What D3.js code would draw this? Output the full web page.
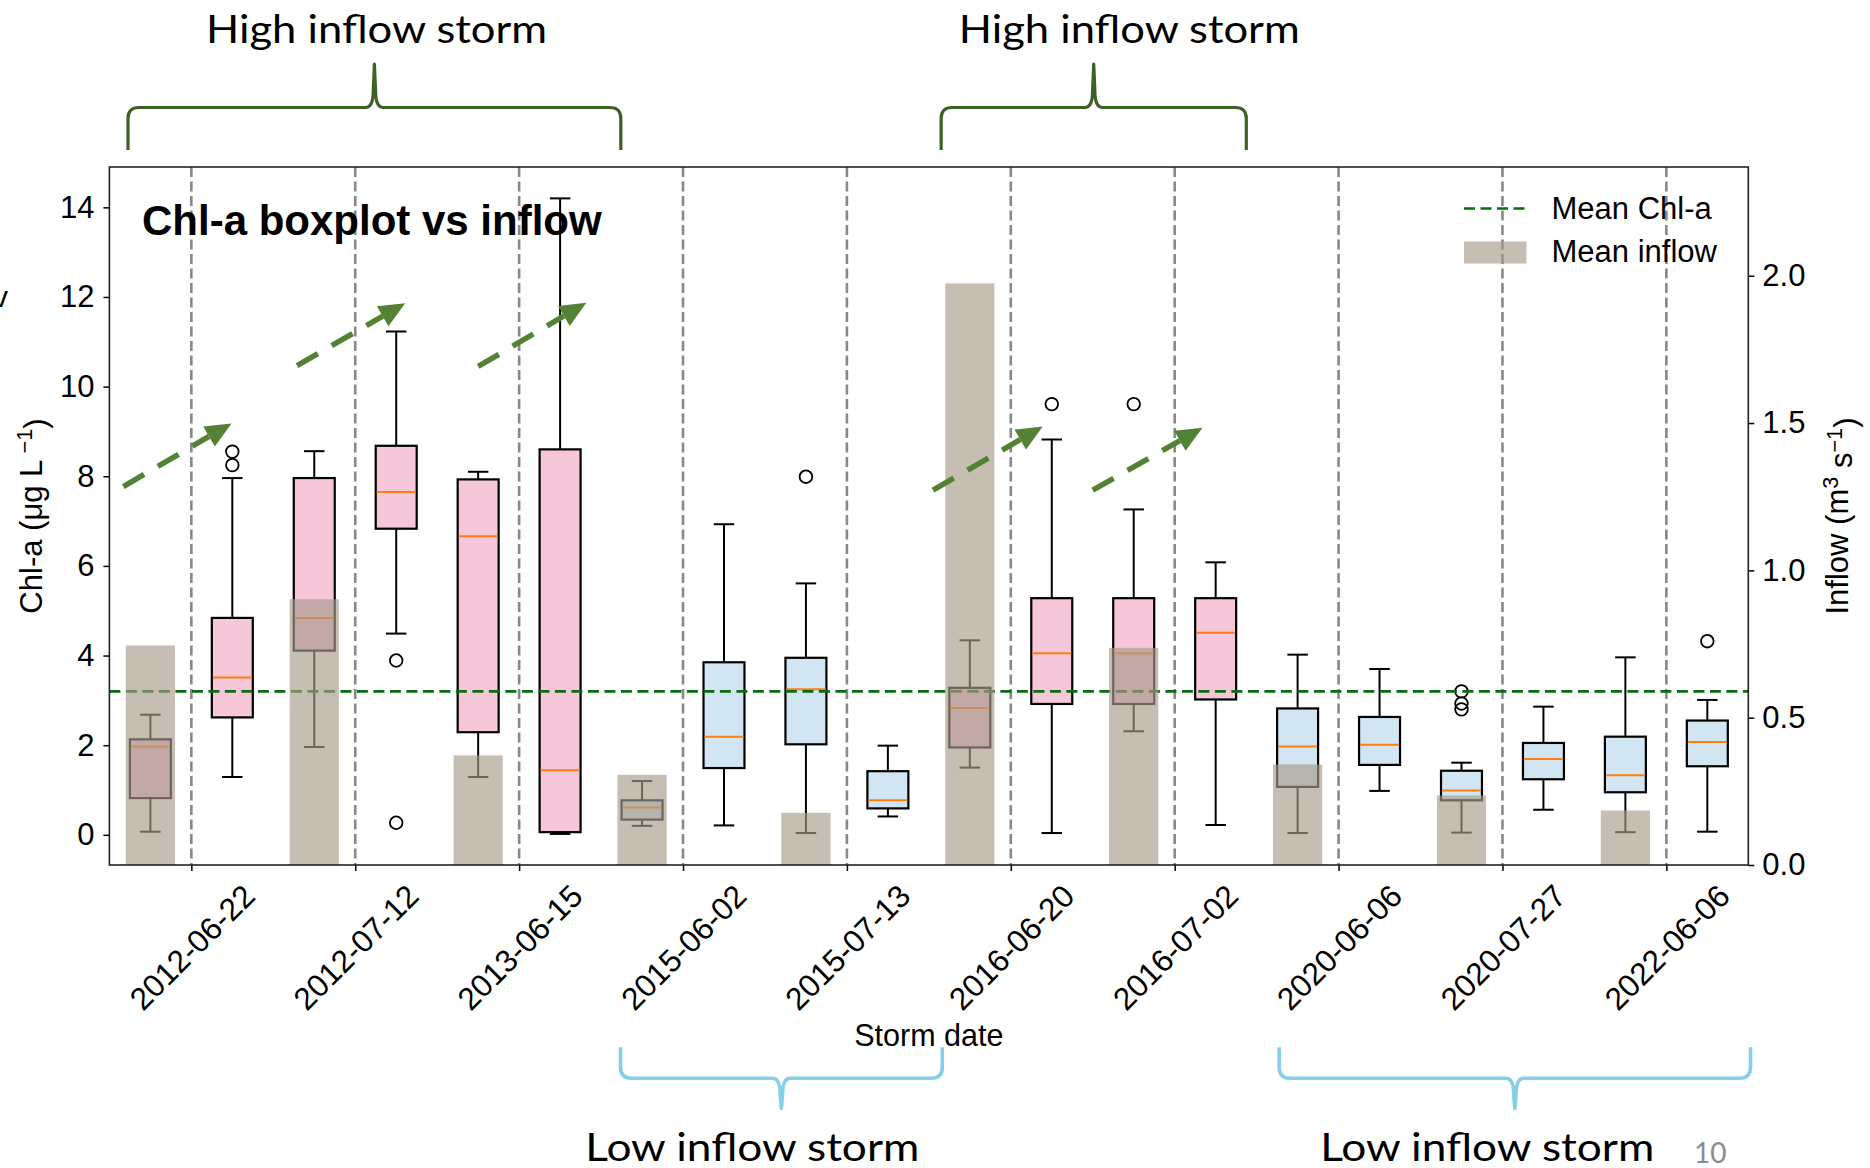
<!DOCTYPE html>
<html>
<head>
<meta charset="utf-8">
<script src="https://cdn.jsdelivr.net/npm/d3@7"></script>
<style>
  body { margin: 0; background: #fff; }
  svg { display: block; }
</style>
</head>
<body>
<svg id="chart" width="1870" height="1168"></svg>
<script>
// ---- data -------------------------------------------------------------
const storms = ["2012-06-22", "2012-07-12", "2013-06-15", "2015-06-02", "2015-07-13",
                "2016-06-20", "2016-07-02", "2020-06-06", "2020-07-27", "2022-06-06"];
const inflowClass = ["high", "high", "high", "low", "low", "high", "high", "low", "low", "low"];

// Chl-a box statistics per storm: [lower whisker, Q1, median, Q3, upper whisker]
const chlPre = [
  [0.07, 0.82, 1.97, 2.13, 2.68],
  [1.96, 4.11, 4.84, 7.96, 8.56],
  [1.29, 2.29, 6.66, 7.93, 8.10],
  [0.20, 0.34, 0.61, 0.77, 1.20],
  [0.04, 2.02, 3.25, 3.95, 5.61],
  [1.50, 1.95, 2.83, 3.28, 4.34],
  [2.31, 2.92, 4.05, 5.28, 7.26],
  [0.04, 1.07, 1.97, 2.82, 4.02],
  [0.05, 0.77, 0.99, 1.43, 1.61],
  [0.06, 0.95, 1.33, 2.19, 3.96]
];
const chlPost = [
  [1.29, 2.62, 3.51, 4.84, 7.96],
  [4.49, 6.83, 7.65, 8.68, 11.23],
  [0.02, 0.06, 1.44, 8.60, 14.20],
  [0.21, 1.49, 2.19, 3.85, 6.93],
  [0.41, 0.59, 0.77, 1.42, 1.99],
  [0.04, 2.92, 4.05, 5.28, 8.82],
  [0.22, 3.02, 4.51, 5.28, 6.08],
  [0.98, 1.56, 2.01, 2.63, 3.70],
  [0.56, 1.24, 1.69, 2.05, 2.86],
  [0.07, 1.53, 2.07, 2.55, 3.01]
];
const outliersPre = [[], [], [], [], [7.99], [], [9.61], [], [2.80, 2.93, 3.20], []];
const outliersPost = [[8.25, 8.55], [3.89, 0.27], [], [], [], [9.61], [], [], [], [4.32]];

// Mean inflow per storm (m3 s-1)
const meanInflow = [0.745, 0.902, 0.372, 0.306, 0.177, 1.974, 0.737, 0.341, 0.236, 0.185];
const meanChl = 3.2;

const chlTicks = [0, 2, 4, 6, 8, 10, 12, 14];
const inflowTicks = [0, 0.5, 1.0, 1.5, 2.0];

// Trend arrows, [x0, chl0, x1, chl1] in box-position / Chl-a units
const trendArrows = [
  [0.67, 7.77, 1.99, 9.18],
  [2.79, 10.47, 4.11, 11.86],
  [5.00, 10.45, 6.32, 11.87],
  [10.55, 7.69, 11.89, 9.11],
  [12.50, 7.69, 13.84, 9.08]
];

// Storm groups marked with braces (spans in box-position units)
const groupLabels = ["High inflow storm", "High inflow storm", "Low inflow storm", "Low inflow storm"];
const groupSpans = [[0.727, 6.741], [10.650, 14.374], [6.737, 10.664], [14.775, 20.527]];
const groupLabelAt = [3.761, 12.946, 8.346, 17.314];
const groupSide = ["top", "top", "bottom", "bottom"];

// ---- layout -----------------------------------------------------------
const W = 1870, H = 1168;
const plot = { left: 109.4, right: 1748.3, top: 167, bottom: 865 };
const chartFont = "'Liberation Sans', Arial, Helvetica, sans-serif";
const slideFont = "Lato, 'Open Sans', sans-serif";

const colors = {
  high: "#f6c6d9",
  low: "#d1e6f2",
  median: "#ff7f0e",
  bar: "rgb(168,154,138)",
  meanLine: "#0b6b12",
  grid: "#888888",
  arrow: "#548235",
  braceHigh: "#3d6125",
  braceLow: "#87ceeb"
};

const svg = d3.select("#chart");
svg.append("rect").attr("width", W).attr("height", H).attr("fill", "#fff");

const x = d3.scaleLinear().domain([0.5, 20.5]).range([plot.left, plot.right]);
const yChl = d3.scaleLinear().domain([-0.673, 14.90]).range([plot.bottom, plot.top]);
const yFlow = d3.scaleLinear().domain([0, 2.369]).range([plot.bottom, plot.top]);

// Box records: pre box at 2i+1, post box at 2i+2
const boxes = [];
storms.forEach((s, i) => {
  boxes.push({ pos: 2 * i + 1, stats: chlPre[i], out: outliersPre[i], cls: inflowClass[i] });
  boxes.push({ pos: 2 * i + 2, stats: chlPost[i], out: outliersPost[i], cls: inflowClass[i] });
});
const tickPos = storms.map((s, i) => 2 * i + 1.5);

// ---- storm separators -------------------------------------------------
svg.append("g").selectAll("line").data(tickPos).join("line")
  .attr("x1", d => x(d)).attr("x2", d => x(d))
  .attr("y1", plot.top).attr("y2", plot.bottom)
  .attr("stroke", colors.grid).attr("stroke-width", 2.6)
  .attr("stroke-dasharray", "10 4.5");

// ---- boxplots ---------------------------------------------------------
const boxW = 0.5, capW = 0.25;
const gBox = svg.append("g");
boxes.forEach(b => {
  const [lo, q1, med, q3, hi] = b.stats;
  const cx = x(b.pos);
  const hw = (x(b.pos + boxW / 2) - x(b.pos - boxW / 2)) / 2;
  const cw = (x(b.pos + capW / 2) - x(b.pos - capW / 2)) / 2;
  const g = gBox.append("g");
  g.append("line").attr("x1", cx).attr("x2", cx).attr("y1", yChl(q1)).attr("y2", yChl(lo))
    .attr("stroke", "#000").attr("stroke-width", 2);
  g.append("line").attr("x1", cx).attr("x2", cx).attr("y1", yChl(q3)).attr("y2", yChl(hi))
    .attr("stroke", "#000").attr("stroke-width", 2);
  [lo, hi].forEach(v => g.append("line")
    .attr("x1", cx - cw).attr("x2", cx + cw).attr("y1", yChl(v)).attr("y2", yChl(v))
    .attr("stroke", "#000").attr("stroke-width", 2));
  g.append("rect").attr("x", cx - hw).attr("width", 2 * hw)
    .attr("y", yChl(q3)).attr("height", yChl(q1) - yChl(q3))
    .attr("fill", colors[b.cls]).attr("stroke", "#000").attr("stroke-width", 2.2);
  g.append("line").attr("x1", cx - hw + 1).attr("x2", cx + hw - 1)
    .attr("y1", yChl(med)).attr("y2", yChl(med))
    .attr("stroke", colors.median).attr("stroke-width", 2);
  g.selectAll("circle").data(b.out).join("circle")
    .attr("cx", cx).attr("cy", d => yChl(d)).attr("r", 6.3)
    .attr("fill", "none").attr("stroke", "#000").attr("stroke-width", 1.8);
});

// ---- mean Chl-a line --------------------------------------------------
svg.append("line")
  .attr("x1", plot.left).attr("x2", plot.right)
  .attr("y1", yChl(meanChl)).attr("y2", yChl(meanChl))
  .attr("stroke", colors.meanLine).attr("stroke-width", 2.6)
  .attr("stroke-dasharray", "11 5.5");

// ---- mean inflow bars (secondary axis) --------------------------------
const barW = 0.6;
svg.append("g").selectAll("rect").data(meanInflow).join("rect")
  .attr("x", (d, i) => x(2 * i + 1 - barW / 2))
  .attr("width", x(1 + barW) - x(1))
  .attr("y", d => yFlow(d))
  .attr("height", d => yFlow(0) - yFlow(d))
  .attr("fill", colors.bar).attr("fill-opacity", 0.65);

// ---- axes -------------------------------------------------------------
const axisStyle = g => {
  g.select(".domain").remove();
  g.selectAll(".tick line").attr("stroke", "#000").attr("stroke-width", 1.5);
  g.selectAll(".tick text").attr("font-family", chartFont).attr("font-size", 31).attr("fill", "#000");
};
svg.append("g").attr("transform", `translate(${plot.left},0)`)
  .call(d3.axisLeft(yChl).tickValues(chlTicks).tickSize(6).tickPadding(9).tickFormat(d3.format("d")))
  .call(axisStyle);
svg.append("g").attr("transform", `translate(${plot.right},0)`)
  .call(d3.axisRight(yFlow).tickValues(inflowTicks).tickSize(6).tickPadding(8).tickFormat(d3.format(".1f")))
  .call(axisStyle);
const xAxis = svg.append("g").attr("transform", `translate(0,${plot.bottom})`)
  .call(d3.axisBottom(x).tickValues(tickPos).tickSize(6).tickFormat((d, i) => storms[i]));
xAxis.select(".domain").remove();
xAxis.selectAll(".tick line").attr("stroke", "#000").attr("stroke-width", 1.5);
xAxis.selectAll(".tick text")
  .attr("font-family", chartFont).attr("font-size", 31.5).attr("fill", "#000")
  .attr("text-anchor", "middle")
  .attr("y", 0).attr("dy", "0.36em")
  .attr("transform", "translate(0,82) rotate(-45)");

// frame
svg.append("rect")
  .attr("x", plot.left).attr("y", plot.top)
  .attr("width", plot.right - plot.left).attr("height", plot.bottom - plot.top)
  .attr("fill", "none").attr("stroke", "#222").attr("stroke-width", 1.6);

// axis labels
svg.append("text")
  .attr("x", (plot.left + plot.right) / 2).attr("y", 1046)
  .attr("text-anchor", "middle")
  .attr("font-family", chartFont).attr("font-size", 30.5)
  .text("Storm date");

const yLab = svg.append("text")
  .attr("transform", `translate(42,${(plot.top + plot.bottom) / 2}) rotate(-90)`)
  .attr("text-anchor", "middle")
  .attr("font-family", chartFont).attr("font-size", 31);
yLab.append("tspan").text("Chl-a (μg L\u2009");
yLab.append("tspan").attr("dy", "-0.45em").attr("font-size", "0.7em").text("\u22121");
yLab.append("tspan").attr("dy", "0.45em").text(")");

const y2Lab = svg.append("text")
  .attr("transform", `translate(1848,${(plot.top + plot.bottom) / 2}) rotate(-90)`)
  .attr("text-anchor", "middle")
  .attr("font-family", chartFont).attr("font-size", 31);
y2Lab.append("tspan").text("Inflow (m");
y2Lab.append("tspan").attr("dy", "-0.45em").attr("font-size", "0.7em").text("3");
y2Lab.append("tspan").attr("dy", "0.45em").text(" s");
y2Lab.append("tspan").attr("dy", "-0.45em").attr("font-size", "0.7em").text("\u22121");
y2Lab.append("tspan").attr("dy", "0.45em").text(")");

// title
svg.append("text")
  .attr("x", 142).attr("y", 235)
  .attr("font-family", chartFont).attr("font-size", 42).attr("font-weight", "bold")
  .text("Chl-a boxplot vs inflow");

// legend
const lg = svg.append("g");
lg.append("line").attr("x1", 1464).attr("x2", 1526).attr("y1", 208.5).attr("y2", 208.5)
  .attr("stroke", colors.meanLine).attr("stroke-width", 2.6).attr("stroke-dasharray", "11 5.5");
lg.append("rect").attr("x", 1464).attr("y", 241.5).attr("width", 62.5).attr("height", 22)
  .attr("fill", colors.bar).attr("fill-opacity", 0.65);
lg.append("text").attr("x", 1551.5).attr("y", 219.3)
  .attr("font-family", chartFont).attr("font-size", 31).text("Mean Chl-a");
lg.append("text").attr("x", 1551.5).attr("y", 261.7)
  .attr("font-family", chartFont).attr("font-size", 31).text("Mean inflow");

// ---- trend arrows -----------------------------------------------------
const ga = svg.append("g");
trendArrows.forEach(a => {
  const x0 = x(a[0]), y0 = yChl(a[1]), x1 = x(a[2]), y1 = yChl(a[3]);
  const ang = Math.atan2(y1 - y0, x1 - x0);
  const headL = 26, headW = 11.5;
  const bx = x1 - headL * Math.cos(ang), by = y1 - headL * Math.sin(ang);
  ga.append("line").attr("x1", x0).attr("y1", y0).attr("x2", bx).attr("y2", by)
    .attr("stroke", colors.arrow).attr("stroke-width", 5.5)
    .attr("stroke-dasharray", "24 16");
  const px = -Math.sin(ang), py = Math.cos(ang);
  ga.append("path")
    .attr("d", `M${x1},${y1}L${bx + px * headW},${by + py * headW}L${bx - px * headW},${by - py * headW}Z`)
    .attr("fill", colors.arrow);
});

// ---- storm group braces ----------------------------------------------
function bracePath(x0, x1, yEnd, yBar, yTip) {
  const dir = Math.sign(yTip - yBar);
  const r = 11, c = 9, xc = (x0 + x1) / 2;
  return [
    `M${x0},${yEnd}`,
    `L${x0},${yBar - dir * r}`,
    `Q${x0},${yBar} ${x0 + r},${yBar}`,
    `L${xc - c},${yBar}`,
    `Q${xc - 1.2},${yBar} ${xc - 1.2},${yBar + dir * 16}`,
    `L${xc},${yTip}`,
    `L${xc + 1.2},${yBar + dir * 16}`,
    `Q${xc + 1.2},${yBar} ${xc + c},${yBar}`,
    `L${x1 - r},${yBar}`,
    `Q${x1},${yBar} ${x1},${yBar - dir * r}`,
    `L${x1},${yEnd}`
  ].join("");
}
const gb = svg.append("g");
groupSpans.forEach((span, i) => {
  const top = groupSide[i] === "top";
  const col = top ? colors.braceHigh : colors.braceLow;
  gb.append("path")
    .attr("d", top ? bracePath(x(span[0]), x(span[1]), 150, 107.5, 64)
                   : bracePath(x(span[0]), x(span[1]), 1047.3, 1078.3, 1108.3))
    .attr("fill", "none").attr("stroke", col).attr("stroke-width", top ? 3.2 : 3.6)
    .attr("stroke-linejoin", "round");
  gb.append("text")
    .attr("x", x(groupLabelAt[i])).attr("y", top ? 42.7 : 1161)
    .attr("text-anchor", "middle")
    .attr("font-family", slideFont).attr("font-size", 38)
    .attr("textLength", top ? 341 : 334).attr("lengthAdjust", "spacingAndGlyphs")
    .attr("fill", "#000")
    .text(groupLabels[i]);
});

// slide page number and glyph at the left edge
svg.append("text").attr("x", 1694).attr("y", 1163)
  .attr("font-family", slideFont).attr("font-size", 28).attr("fill", "#8c8c8c").text("10");
svg.append("text").attr("x", -7).attr("y", 307)
  .attr("font-family", chartFont).attr("font-size", 30).attr("fill", "#000").text("v");
</script>
</body>
</html>
